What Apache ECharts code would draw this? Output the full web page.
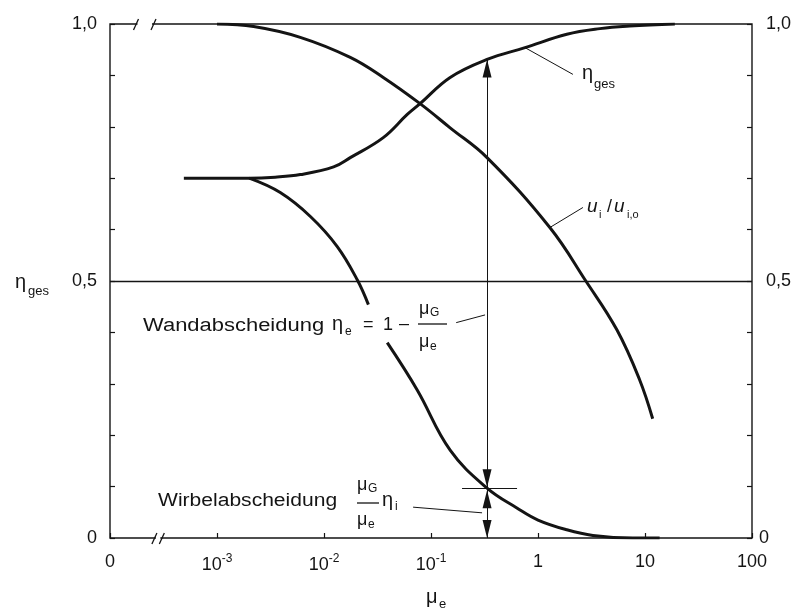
<!DOCTYPE html>
<html>
<head>
<meta charset="utf-8">
<script src="https://cdn.jsdelivr.net/npm/echarts@6/dist/echarts.min.js"></script>
<style>
  html, body { margin: 0; padding: 0; background: #fff; }
  #chart { width: 797px; height: 610px; }
</style>
</head>
<body>
<div id="chart"></div>
<script>
// Total efficiency eta_ges, tangential velocity ratio u_i/u_i,o and the
// wall/vortex split, plotted over the solids loading mu_e.
const etaGesMu  = [4.9e-4, 1.0e-3, 2.0e-3, 3.5e-3, 6.0e-3, 0.0123, 0.0176, 0.0358, 0.06, 0.079, 0.151, 0.334, 0.756, 1.86, 3.79, 7.2, 19];
const etaGesVal = [0.70, 0.70, 0.70, 0.702, 0.707, 0.722, 0.74, 0.779, 0.824, 0.845, 0.896, 0.931, 0.954, 0.98, 0.991, 0.996, 1.0];

const uRatioMu  = [1.0e-3, 2.2e-3, 6.0e-3, 0.0176, 0.0358, 0.079, 0.151, 0.334, 1.29, 2.8, 5.46, 8.9, 11.8];
const uRatioVal = [1.0, 0.995, 0.974, 0.935, 0.896, 0.845, 0.798, 0.740, 0.604, 0.50, 0.405, 0.308, 0.232];

// vortex-separation share; the null leaves room for the formula label
const vortexMu  = [2.0e-3, 3.9e-3, 7.5e-3, 0.0133, 0.0205, 0.026, 0.032, 0.039, 0.0743, 0.151, 0.334, 0.64, 1, 1.86, 3.26, 7.7, 13.7];
const vortexVal = [0.70, 0.672, 0.625, 0.567, 0.502, 0.454, null, 0.38, 0.288, 0.171, 0.097, 0.058, 0.035, 0.016, 0.005, 0.0, 0.0];

// operating point marked by the double arrows
const markMu = 0.334;
const markTotal = 0.931;
const markVortex = 0.097;

const xTickExp = [-4, -3, -2, -1, 0, 1, 2];
const xTickText = ['0', '10{sup|-3}', '10{sup|-2}', '10{sup|-1}', '1', '10', '100'];
const yTickText = { '0': '0', '0.5': '0,5', '1': '1,0' };

const FONT = '"Liberation Sans", Arial, Helvetica, sans-serif';
const INK = '#141414';

const pairs = (xs, ys) => xs.map((x, i) => [x, ys[i] == null ? '-' : ys[i]]);

const chart = echarts.init(document.getElementById('chart'), null, { renderer: 'canvas' });

const yLabel = v => {
  const k = String(Math.round(v * 10) / 10);
  return yTickText[k] !== undefined ? yTickText[k] : '';
};
// on the right side the two-part labels sit a little further out than "0"
const yLabelRight = v => {
  const s = yLabel(v);
  return s.length > 1 ? '{w|' + s + '}' : s;
};

const thick = { color: INK, width: 3 };
const tick = { show: true, inside: true, length: 5, lineStyle: { color: INK, width: 1.2 } };

chart.setOption({
  animation: false,
  backgroundColor: '#fff',
  grid: { left: 110, right: 45, top: 24, bottom: 72, show: true, borderColor: INK, borderWidth: 1.4, backgroundColor: 'transparent' },
  xAxis: {
    type: 'log', logBase: 10, min: 1e-4, max: 100, interval: 1,
    axisLine: { show: false },
    axisTick: tick,
    splitLine: { show: false },
    axisLabel: {
      margin: 15, color: INK, fontSize: 18, fontFamily: FONT,
      formatter: v => {
        const e = Math.round(Math.log10(v));
        const i = xTickExp.indexOf(e);
        return i >= 0 ? xTickText[i] : '';
      },
      rich: {
        sup: { fontSize: 12, fontFamily: FONT, color: INK, padding: [0, 0, 12, 0] }
      }
    }
  },
  yAxis: [
    {
      type: 'value', min: 0, max: 1, interval: 0.1, position: 'left',
      axisLine: { show: false }, axisTick: tick, splitLine: { show: false },
      axisLabel: { margin: 13, color: INK, fontSize: 18, fontFamily: FONT, formatter: yLabel }
    },
    {
      type: 'value', min: 0, max: 1, interval: 0.1, position: 'right',
      axisLine: { show: false }, axisTick: tick, splitLine: { show: false },
      axisLabel: {
        margin: 7, color: INK, fontSize: 18, fontFamily: FONT, formatter: yLabelRight,
        rich: { w: { fontSize: 18, fontFamily: FONT, color: INK, padding: [0, 0, 0, 7] } }
      }
    }
  ],
  series: [
    {
      name: 'eta_ges', type: 'line', data: pairs(etaGesMu, etaGesVal),
      showSymbol: false, symbol: 'none', smooth: 0.4, lineStyle: thick,
      markLine: {
        silent: true, symbol: 'none', label: { show: false },
        lineStyle: { color: INK, width: 1.3, type: 'solid' },
        data: [{ yAxis: 0.5 }]
      }
    },
    {
      name: 'u_i/u_io', type: 'line', data: pairs(uRatioMu, uRatioVal),
      showSymbol: false, symbol: 'none', smooth: 0.4, lineStyle: thick
    },
    {
      name: 'vortex', type: 'line', data: pairs(vortexMu, vortexVal), connectNulls: false,
      showSymbol: false, symbol: 'none', smooth: 0.4, lineStyle: thick
    },
    {
      // leader lines, the crossbar at the operating point and the arrow shaft
      name: 'leaders', type: 'lines', coordinateSystem: 'cartesian2d', silent: true,
      lineStyle: { color: INK, width: 1, opacity: 1 },
      data: [
        { coords: [[0.756, 0.954], [2.12, 0.902]] },
        { coords: [[1.29, 0.604], [2.63, 0.643]] },
        { coords: [[0.172, 0.419], [0.32, 0.434]] },
        { coords: [[0.068, 0.060], [0.30, 0.049]] },
        { coords: [[0.195, markVortex], [0.637, markVortex]], lineStyle: { width: 1.2 } },
        { coords: [[markMu, markTotal], [markMu, 0]] }
      ]
    }
  ]
});

// Annotations placed after layout so they sit on the axis scale
function px(mu, v) { return chart.convertToPixel({ gridIndex: 0 }, [mu, v]); }

function text(x, y, str, size, extra) {
  const st = Object.assign({
    text: str, fontSize: size, fontFamily: FONT, fill: INK,
    align: 'left', verticalAlign: 'middle', textAlign: 'left', textVerticalAlign: 'middle'
  }, extra && extra.style);
  return Object.assign({ type: 'text', x: x, y: y, z: 50, style: st }, extra && extra.props);
}

function line(x1, y1, x2, y2, w) {
  return { type: 'line', z: 50, shape: { x1, y1, x2, y2 }, style: { stroke: INK, lineWidth: w || 1 } };
}

function arrowHead(tip, dir) {
  // dir = 1 points down, -1 points up
  const L = 18, H = 4.5;
  return {
    type: 'polygon', z: 51,
    shape: { points: [[tip[0], tip[1]], [tip[0] - H, tip[1] - dir * L], [tip[0] + H, tip[1] - dir * L]] },
    style: { fill: INK }
  };
}

const g = [];

// axis breaks between 0 and 10^-3
const topA = px(1.75e-4, 1)[0], topB = px(2.55e-4, 1)[0];
const botA = px(2.6e-4, 0)[0], botB = px(3.05e-4, 0)[0];
const yTop = px(1e-3, 1)[1], yBot = px(1e-3, 0)[1];
g.push({ type: 'rect', z: 49, shape: { x: topA + 1.5, y: yTop - 3, width: topB - topA - 3, height: 6 }, style: { fill: '#fff' } });
g.push({ type: 'rect', z: 49, shape: { x: botA + 1.5, y: yBot - 3, width: botB - botA - 3, height: 6 }, style: { fill: '#fff' } });
[topA, topB].forEach(x => g.push(line(x - 2.5, yTop + 6, x + 2.5, yTop - 5, 1.3)));
[botA, botB].forEach(x => g.push(line(x - 2.5, yBot + 6, x + 2.5, yBot - 5, 1.3)));

// double arrows at the operating point
const pTop = px(markMu, markTotal), pMid = px(markMu, markVortex), pBot = px(markMu, 0);
g.push(arrowHead(pTop, -1));
g.push(arrowHead([pMid[0], pMid[1] - 1], 1));
g.push(arrowHead([pMid[0], pMid[1] + 2], -1));
g.push(arrowHead(pBot, 1));

// axis titles
g.push(text(15, 282, 'η', 20));
g.push(text(28, 291, 'ges', 13));
g.push(text(426, 597, 'μ', 20));
g.push(text(439, 604, 'e', 13));

// curve names
g.push(text(582, 73, 'η', 20));
g.push(text(594, 84, 'ges', 13));
g.push(text(587, 207, 'u', 19, { style: { fontStyle: 'italic' } }));
g.push(text(599, 215, 'i', 11));
g.push(text(607, 207, '/', 18));
g.push(text(614, 207, 'u', 19, { style: { fontStyle: 'italic' } }));
g.push(text(627, 215, 'i,o', 11));

// wall separation label
g.push(text(143, 326, 'Wandabscheidung', 18, { props: { scaleX: 1.22 } }));
g.push(text(332, 324, 'η', 20));
g.push(text(345, 332, 'e', 12));
g.push(text(363, 325, '=', 18));
g.push(text(383, 325, '1', 18));
g.push(text(399, 324, '–', 18));
g.push(text(419, 309, 'μ', 18));
g.push(text(430, 313, 'G', 12));
g.push(line(418, 324, 447, 324, 1.3));
g.push(text(419, 342, 'μ', 18));
g.push(text(430, 347, 'e', 12));

// vortex separation label
g.push(text(158, 501, 'Wirbelabscheidung', 18, { props: { scaleX: 1.17 } }));
g.push(text(357, 485, 'μ', 18));
g.push(text(368, 489, 'G', 12));
g.push(line(357, 503, 379, 503, 1.3));
g.push(text(357, 520, 'μ', 18));
g.push(text(368, 525, 'e', 12));
g.push(text(382, 500, 'η', 20));
g.push(text(395, 507, 'i', 12));

chart.setOption({ graphic: g });
</script>
</body>
</html>
